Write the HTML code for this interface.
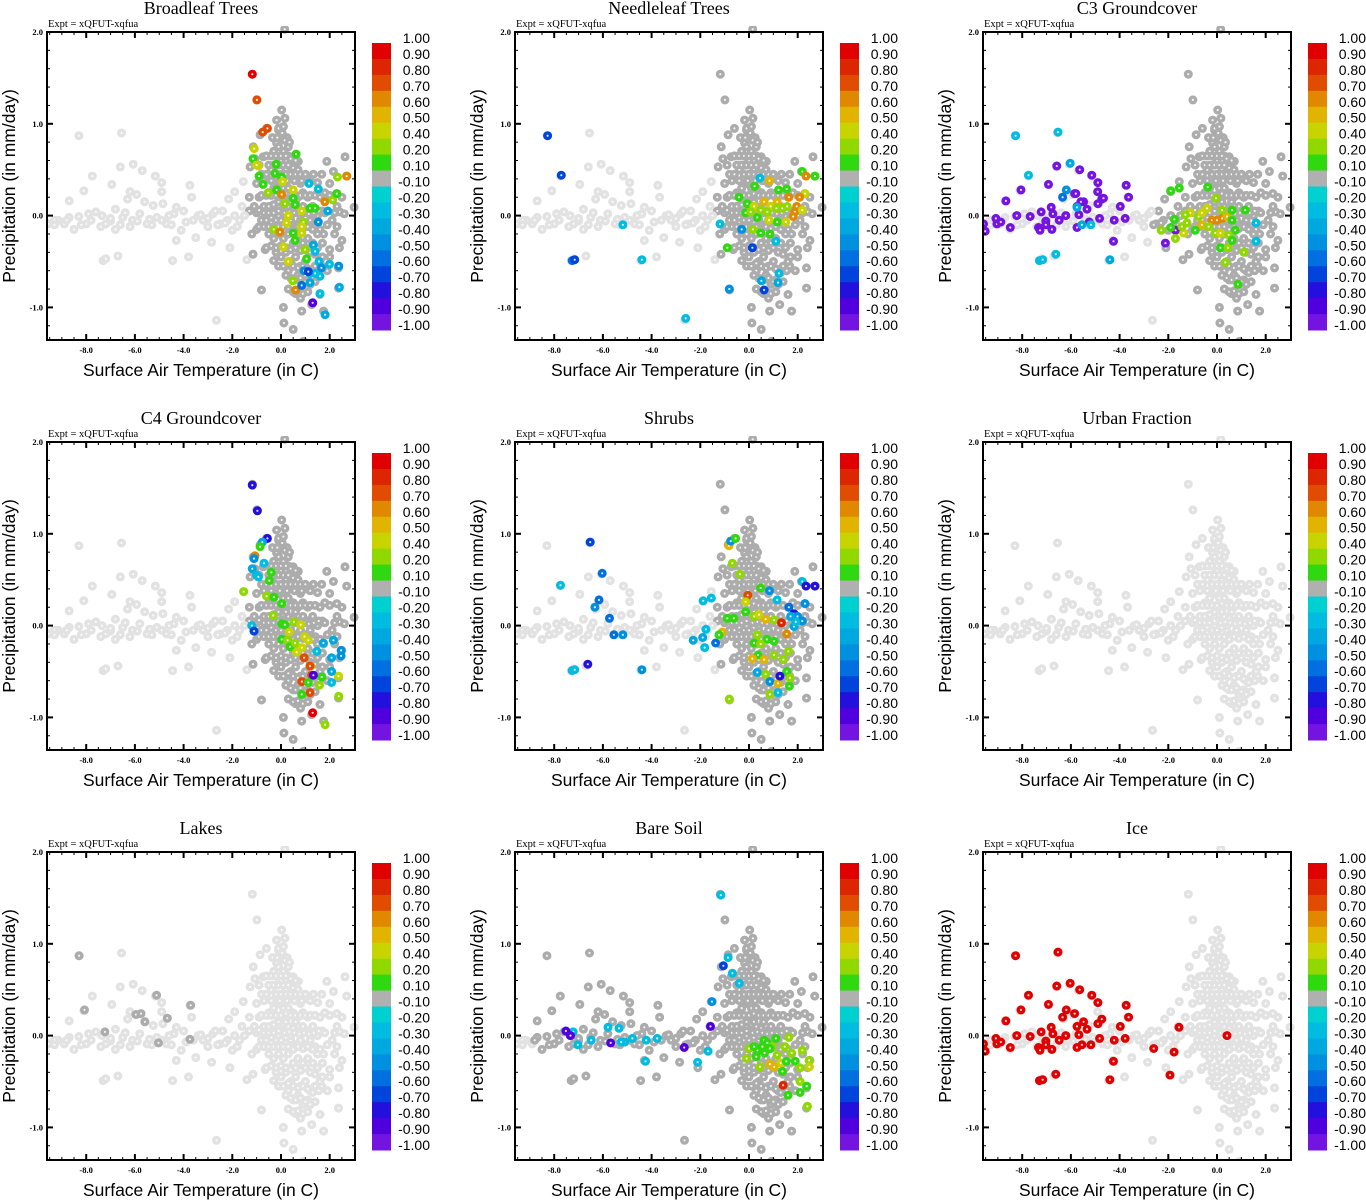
<!DOCTYPE html>
<html><head><meta charset="utf-8">
<style>
html,body{margin:0;padding:0;background:#fff;}
svg{display:block;}
.ttl{font-family:"Liberation Serif",serif;font-size:18px;fill:#000;}
.expt{font-family:"Liberation Serif",serif;font-size:10.5px;fill:#000;}
.tk{font-family:"Liberation Serif",serif;font-size:8.5px;font-weight:bold;fill:#000;}
.axt{font-family:"Liberation Sans",sans-serif;font-size:17.5px;fill:#000;}
.cbl{font-family:"Liberation Sans",sans-serif;font-size:14px;fill:#000;}
</style></head>
<body>
<svg id="fig" width="1366" height="1200" viewBox="0 0 1366 1200" xmlns="http://www.w3.org/2000/svg"></svg>
<script>
// ---- data ----
const panelTitles = ["Broadleaf Trees","Needleleaf Trees","C3 Groundcover","C4 Groundcover","Shrubs","Urban Fraction","Lakes","Bare Soil","Ice"];
const xTicks = [-8,-6,-4,-2,0,2];
const xTickLabels = ["-8.0","-6.0","-4.0","-2.0","0.0","2.0"];
const yTicks = [2,1,0,-1];
const yTickLabels = ["2.0","1.0","0.0","-1.0"];
const cbLabels = ["1.00","0.90","0.80","0.70","0.60","0.50","0.40","0.20","0.10","-0.10","-0.20","-0.30","-0.40","-0.50","-0.60","-0.70","-0.80","-0.90","-1.00"];
const cbLevels = [1.0,0.9,0.8,0.7,0.6,0.5,0.4,0.2,0.1,-0.1,-0.2,-0.3,-0.4,-0.5,-0.6,-0.7,-0.8,-0.9,-1.0];
const cbColors = ["#e00000","#dc2600","#e04c00","#e08800","#e0b400","#c8d400","#90d800","#30d810","#b0b0b0","#00d0d0","#00bce0","#00a8e0","#0090e0","#0070e0","#0044dc","#2410dc","#5000dc","#7414e0"];
// base cloud: [temperature, precipitation]
const baseT = [-8.3,-6.55,-1.18,-0.99,0.15,-8.7,-8.1,-7.75,-6.95,-6.6,-6.07,-5.7,-5.16,-4.9,-4.9,-3.74,-3.67,-6.2,-5.93,-6.3,-5.6,-5.25,-4.85,-4.3,-4.0,-9.55,-9.15,-8.9,-8.5,-8.3,-8.0,-7.6,-7.35,-7.2,-6.8,-6.8,-6.5,-6.1,-5.8,-5.5,-5.1,-4.7,-4.4,-4.1,-4.3,-4.45,-3.8,-3.5,-3.2,-2.8,-2.5,-2.85,-2.65,-2.1,-2.0,-2.15,-1.9,-1.55,-1.4,-1.15,-0.8,-0.65,-0.3,-7.3,-7.2,-6.7,2.63,2.7,1.88,1.67,1.33,2.15,2.29,2.42,2.5,2.36,2.36,2.0,1.67,1.6,1.75,1.26,0.85,0.5,0.12,0.1,0.92,3.0,-0.18,0.03,0.16,-0.1,-0.6,-0.86,-1.14,-1.07,-1.27,-0.73,-0.18,0.1,0.3,0.5,0.71,0.37,-0.6,-0.4,-0.2,0,0.2,0.4,0.6,-0.5,-0.3,-0.1,0.1,0.3,0.5,0.7,0.9,1.1,-0.7,-0.5,-0.3,-0.1,0.1,0.3,0.5,0.7,0.9,1.1,1.3,1.5,1.7,-0.8,-0.6,-0.4,-0.2,0,0.2,0.4,0.6,0.8,1.0,1.2,1.4,1.6,1.9,2.1,-0.5,-0.3,-0.1,0.1,0.3,0.5,0.7,0.9,1.1,1.3,1.5,1.7,-0.2,0,0.2,0.4,0.6,0.8,1.0,1.2,1.4,0.3,0.5,0.7,0.9,1.1,0.6,0.8,-0.3,-0.1,0.1,0.3,0.05,0.25,-0.9,-1.1,-1.3,-1.5,-1.7,-1.9,-2.2,-2.4,-1.0,-1.2,2.3,2.5,2.2,2.4,1.8,2.0,1.6,1.9,0.0,0.2,0.4,-0.1,0.6,0.8,1.0,-3.0,-3.4,-2.6,-9.3,-8.7,-7.9,-7.0,-6.4,-5.4,-4.6,-3.9,-3.3];
const baseP = [0.87,0.90,1.54,1.26,2.03,0.16,0.27,0.43,0.34,0.53,0.56,0.49,0.43,0.36,0.26,0.33,0.2,0.26,0.23,0.18,0.15,0.11,0.13,0.09,0.05,-0.09,-0.05,-0.09,-0.15,-0.01,-0.09,0.04,0.0,-0.09,0.07,-0.15,-0.02,-0.05,0.02,-0.09,-0.02,-0.09,0.02,-0.16,-0.27,-0.49,-0.45,-0.24,-0.05,0.02,-0.09,-0.29,-1.14,-0.35,-0.16,0.18,0.26,0.37,-0.48,-0.42,-0.81,-0.37,-0.49,-0.49,-0.47,-0.44,0.64,0.43,0.59,0.45,0.45,0.48,0.24,0.04,-0.27,-0.57,-0.79,-0.37,-0.55,-0.86,-1.04,-0.97,-1.04,-1.24,-1.17,-1.0,-1.37,0.09,1.04,1.15,1.06,0.93,0.95,0.88,0.75,0.62,0.53,0.64,0.79,0.86,0.75,0.64,0.59,0.53,0.4,0.5,0.55,0.6,0.5,0.45,0.4,0.25,0.3,0.35,0.3,0.3,0.25,0.2,0.25,0.2,0.1,0.1,0.12,0.15,0.12,0.1,0.08,0.05,0.1,0.05,0.1,0.0,0.05,-0.05,-0.05,-0.02,-0.05,-0.05,-0.08,-0.05,-0.1,-0.05,-0.1,-0.05,-0.12,-0.15,-0.1,-0.05,-0.2,-0.25,-0.2,-0.25,-0.2,-0.3,-0.25,-0.3,-0.25,-0.3,-0.35,-0.3,-0.4,-0.45,-0.4,-0.5,-0.45,-0.55,-0.5,-0.6,-0.55,-0.6,-0.7,-0.65,-0.75,-0.7,-0.85,-0.9,0.7,0.75,0.7,0.65,0.9,0.85,0.2,0.1,0.05,0.0,-0.05,0.0,-0.05,0.05,-0.15,-0.2,0.1,0.2,-0.2,-0.35,0.25,0.35,-0.5,-0.6,0.2,0.15,0.0,0.0,0.15,0.35,0.4,-0.03,0.0,-0.1,-0.05,-0.02,0.02,-0.06,0.03,-0.04,0.0,-0.07,0.01];
// additional dense-cluster points [t,p]
const denseCloud = [[-0.1,0.95],[0.1,0.97],[-0.35,0.85],[-0.15,0.85],[0.15,0.82],[0.35,0.8],[-0.6,0.65],[-0.4,0.65],[-0.2,0.65],[0.0,0.65],[0.2,0.65],[0.4,0.62],[0.6,0.6],[-0.9,0.55],[-0.5,0.55],[-0.3,0.55],[-0.1,0.55],[0.1,0.55],[0.3,0.55],[0.5,0.52],[0.7,0.5],[-0.8,0.45],[-0.6,0.45],[-0.2,0.45],[0.0,0.45],[0.2,0.45],[0.4,0.45],[0.6,0.45],[0.8,0.45],[1.0,0.45],[-0.7,0.38],[-0.4,0.38],[-0.05,0.38],[0.25,0.38],[0.55,0.38],[0.85,0.38],[1.2,0.38],[1.5,0.36],[-0.8,0.22],[-0.6,0.22],[-0.4,0.22],[-0.2,0.22],[0.0,0.22],[0.2,0.24],[0.4,0.22],[0.6,0.22],[0.8,0.22],[1.0,0.22],[1.2,0.22],[1.4,0.22],[1.6,0.2],[2.0,0.22],[-1.0,0.03],[-0.9,0.06],[-0.7,0.03],[-0.5,0.03],[-0.3,0.03],[-0.1,0.05],[0.15,0.03],[0.35,0.04],[0.55,0.03],[0.75,0.02],[0.95,0.03],[1.15,0.02],[1.35,0.03],[1.55,0.05],[1.8,0.03],[2.2,0.03],[2.6,0.02],[-0.9,-0.12],[-0.7,-0.12],[-0.5,-0.12],[-0.3,-0.12],[-0.1,-0.12],[0.1,-0.12],[0.3,-0.12],[0.5,-0.15],[0.7,-0.12],[0.9,-0.14],[1.1,-0.12],[1.3,-0.15],[1.5,-0.2],[1.75,-0.2],[2.3,-0.12],[-0.6,-0.35],[-0.4,-0.33],[-0.2,-0.35],[0.0,-0.33],[0.2,-0.35],[0.4,-0.37],[0.6,-0.35],[0.8,-0.38],[1.0,-0.35],[1.2,-0.4],[1.4,-0.42],[1.7,-0.45],[2.0,-0.45],[-0.1,-0.55],[0.1,-0.55],[0.3,-0.52],[0.5,-0.55],[0.7,-0.57],[0.9,-0.55],[1.1,-0.58],[1.3,-0.62],[1.55,-0.6],[0.2,-0.65],[0.4,-0.68],[0.6,-0.7],[0.8,-0.68],[1.0,-0.72],[1.2,-0.75],[1.4,-0.72],[0.3,-0.8],[0.5,-0.83],[0.7,-0.82],[0.9,-0.85],[1.1,-0.83]];
// additional tail points near zero precipitation [t,p]
const tailCloud = [[-9.3,-0.1],[-8.8,-0.05],[-8.2,-0.1],[-7.8,-0.05],[-7.4,-0.12],[-7.0,-0.03],[-6.6,-0.1],[-6.2,-0.12],[-5.9,-0.06],[-5.3,-0.1],[-4.9,-0.05],[-4.5,-0.1],[-3.6,-0.05],[-3.0,-0.12],[-2.7,0.05],[-2.3,-0.08],[-1.8,-0.12],[-1.6,0.1],[-1.3,0.2],[-1.0,0.35]];
// threshold temperature above which base points are near-zero (dark gray) per panel
const neutralFrom = [-1.3,-1.3,-2.6,-1.3,-1.3,99,99,-8.8,99];
// extra near-zero points (Lakes)
const lakesNeutralT = [-8.29,-8.07,-7.23,-5.96,-5.75,-5.59,-5.11,-5.03,-4.67,-3.71,-3.74];
const lakesNeutralP = [0.87,0.28,0.04,0.23,0.24,0.15,0.44,-0.08,0.19,0.33,-0.04];
// colored points per panel: [t,p,value]
const broadleafPts = [[-1.18,1.54,0.95],[-0.99,1.26,0.75],[-0.75,0.91,0.75],[-0.56,0.95,0.75],[-1.1,0.73,0.4],[-1.15,0.62,0.15],[-0.93,0.54,0.4],[-1.0,0.55,0.4],[-0.2,0.56,0.15],[0.62,0.67,0.15],[-0.9,0.43,0.15],[-0.25,0.46,0.15],[0.03,0.42,0.15],[0.07,0.37,0.4],[-0.73,0.34,0.15],[-0.52,0.25,0.3],[-0.18,0.28,0.15],[0.03,0.23,0.6],[0.5,0.28,0.4],[0.5,0.19,0.15],[0.16,0.13,0.3],[0.58,0.12,0.15],[0.85,0.05,0.4],[1.19,0.08,0.15],[1.4,0.08,0.15],[0.3,0.0,0.4],[0.23,-0.08,0.4],[0.5,-0.19,0.15],[0.92,-0.07,0.3],[0.85,-0.12,0.4],[0.85,-0.19,0.4],[-0.3,-0.15,0.3],[-0.04,-0.18,0.65],[0.58,-0.27,0.15],[0.1,-0.34,0.4],[0.99,-0.37,0.3],[1.05,-0.47,0.15],[0.3,-0.5,0.4],[0.48,-0.71,0.3],[0.6,-0.81,0.6],[2.7,0.43,0.6],[2.32,0.42,0.3],[2.12,0.17,0.3],[1.8,0.15,0.65],[2.29,0.24,0.15],[1.15,0.35,-0.25],[1.53,0.29,-0.25],[1.92,0.05,-0.4],[1.53,-0.07,-0.5],[1.33,-0.32,-0.4],[1.4,-0.39,-0.3],[1.56,-0.5,-0.25],[1.66,-0.57,-0.5],[1.99,-0.53,-0.3],[2.37,-0.55,-0.5],[2.4,-0.78,-0.35],[1.19,-0.63,-0.3],[1.4,-0.63,-0.25],[1.6,-0.66,-0.3],[1.19,-0.73,-0.4],[0.95,-0.6,-0.45],[1.12,-0.61,-0.7],[1.6,-0.85,-0.3],[1.3,-0.95,-0.85],[1.81,-1.08,-0.35],[0.85,-0.76,-0.6]];
const needleleafPts = [[-8.27,0.87,-0.7],[-7.71,0.44,-0.65],[-7.26,-0.49,-0.55],[-7.16,-0.48,-0.65],[-5.18,-0.1,-0.25],[-4.4,-0.48,-0.3],[-2.6,-1.12,-0.25],[-0.81,-0.8,-0.45],[-1.19,-0.09,-0.25],[-0.89,-0.35,0.15],[-0.3,-0.15,-0.45],[0.14,-0.35,-0.65],[0.62,-0.81,-0.7],[0.51,-0.71,-0.4],[1.19,-0.73,-0.4],[1.23,-0.63,-0.3],[1.1,-0.28,-0.25],[0.45,0.41,-0.25],[0.23,0.32,0.15],[0.84,0.38,0.55],[1.21,0.28,0.15],[1.55,0.29,0.15],[2.19,0.48,0.15],[2.34,0.43,0.65],[2.71,0.43,0.15],[2.3,0.24,0.45],[2.08,0.2,0.65],[1.64,0.2,0.65],[1.96,0.1,0.65],[1.88,0.04,0.65],[1.81,-0.01,0.65],[2.19,0.06,0.4],[1.51,-0.07,0.45],[1.16,-0.07,0.15],[0.82,-0.05,0.4],[0.34,-0.02,0.15],[-0.14,0.03,0.15],[-0.41,0.2,0.15],[-0.07,0.13,0.15],[0.21,0.1,0.4],[0.62,0.15,0.55],[0.89,0.1,0.4],[1.16,0.15,0.55],[1.37,0.08,0.3],[0.48,0.06,0.3],[0.75,0.04,0.3],[0.16,-0.15,0.3],[0.48,-0.19,0.15],[0.86,-0.2,0.15],[0.07,0.04,0.3],[1.13,0.08,0.3],[1.57,0.1,0.3]];
const c3Pts = [[-9.59,-0.09,-0.95],[-9.52,-0.17,-0.95],[-9.08,-0.03,-0.95],[-9.04,-0.09,-0.95],[-8.88,-0.07,-0.95],[-8.67,0.16,-0.95],[-8.49,-0.13,-0.95],[-8.22,0.0,-0.95],[-8.05,0.28,-0.95],[-7.67,-0.01,-0.95],[-7.33,-0.13,-0.95],[-7.27,-0.16,-0.95],[-7.22,0.04,-0.95],[-7.03,-0.06,-0.95],[-7.03,-0.1,-0.95],[-6.92,0.34,-0.95],[-6.81,0.09,-0.95],[-6.78,-0.15,-0.95],[-6.74,0.02,-0.95],[-6.58,0.54,-0.95],[-6.48,-0.05,-0.95],[-6.21,0.0,-0.95],[-5.85,0.24,-0.95],[-5.8,0.24,-0.95],[-5.75,0.1,-0.95],[-5.67,0.01,-0.95],[-5.64,0.5,-0.95],[-5.75,-0.13,-0.95],[-5.48,0.15,-0.95],[-5.59,0.15,-0.95],[-5.34,0.07,-0.95],[-5.25,-0.07,-0.95],[-5.14,0.44,-0.95],[-4.89,0.36,-0.95],[-4.89,0.13,-0.95],[-4.9,0.26,-0.95],[-4.82,-0.03,-0.95],[-4.73,0.18,-0.95],[-4.66,0.19,-0.95],[-4.25,-0.28,-0.95],[-4.22,-0.05,-0.95],[-3.97,0.1,-0.95],[-3.77,-0.03,-0.95],[-3.73,0.33,-0.95],[-3.63,0.2,-0.95],[-2.12,-0.3,-0.95],[-1.7,-0.16,-0.95],[-8.27,0.87,-0.25],[-6.53,0.91,-0.25],[-7.74,0.44,-0.25],[-6.03,0.57,-0.35],[-6.19,0.28,-0.45],[-6.34,0.2,-0.6],[-5.75,0.09,-0.35],[-5.55,-0.1,-0.4],[-5.18,-0.1,-0.25],[-7.29,-0.49,-0.25],[-7.16,-0.48,-0.25],[-6.62,-0.42,-0.3],[-4.4,-0.48,-0.35],[-1.9,0.27,0.15],[-1.55,0.3,0.15],[-0.38,0.31,0.15],[-0.04,0.19,0.25],[-2.29,-0.16,0.25],[-1.9,-0.13,0.15],[-1.75,-0.04,0.15],[-1.71,-0.25,0.25],[-1.37,-0.19,0.45],[-1.44,-0.12,0.3],[-1.23,-0.08,0.2],[-0.89,-0.16,0.15],[-0.62,-0.1,0.55],[-0.41,0.08,0.45],[-0.21,-0.05,0.6],[0.0,-0.05,0.65],[0.21,-0.03,0.6],[0.41,-0.01,0.55],[0.21,0.06,0.3],[0.62,0.06,0.15],[1.16,0.06,0.15],[0.62,-0.05,0.15],[0.75,-0.16,0.15],[-0.07,-0.19,0.3],[0.14,-0.19,0.45],[0.48,-0.21,0.3],[0.14,-0.35,0.15],[0.45,-0.35,0.3],[0.62,-0.27,0.15],[1.1,-0.4,0.25],[0.34,-0.51,0.25],[0.86,-0.75,0.15],[-1.1,0.03,0.45],[-0.75,-0.01,0.3],[-0.34,-0.12,0.35],[-0.62,0.03,0.4],[-1.3,0.01,0.3],[1.6,-0.08,-0.3],[1.6,-0.28,-0.3]];
const c4Pts = [[-1.18,1.53,-0.8],[-0.97,1.25,-0.8],[-0.56,0.95,-0.8],[-0.77,0.91,-0.4],[-0.86,0.86,0.15],[-1.07,0.76,0.65],[-1.11,0.73,-0.45],[-0.7,0.68,-0.25],[-1.18,0.62,-0.35],[-1.0,0.55,-0.25],[-0.93,0.53,-0.25],[-0.4,0.58,0.15],[-0.48,0.49,0.15],[-1.53,0.37,0.3],[-0.59,0.32,0.3],[-0.29,0.31,0.15],[0.03,0.24,0.15],[-0.32,0.11,0.3],[0.03,0.02,0.15],[0.16,0.01,0.15],[0.53,0.04,0.3],[0.81,0.01,0.4],[-1.2,0.0,-0.3],[-1.11,-0.06,-0.65],[0.34,-0.07,0.45],[0.03,-0.15,0.15],[0.27,-0.16,0.3],[0.37,-0.23,0.15],[0.58,-0.19,0.3],[0.64,-0.29,0.45],[0.86,-0.24,0.45],[0.97,-0.12,0.45],[1.12,-0.16,0.45],[0.95,-0.35,0.75],[1.22,-0.44,0.4],[1.19,-0.44,0.75],[1.26,-0.54,0.75],[0.86,-0.61,0.75],[1.19,-0.73,0.75],[1.3,-0.95,0.9],[1.12,-0.62,0.15],[0.85,-0.75,0.15],[1.58,-0.65,0.3],[1.67,-0.56,0.15],[1.81,-1.08,0.3],[2.37,-0.77,0.3],[2.36,-0.55,0.45],[2.08,-0.5,-0.35],[2.08,-0.62,-0.25],[2.08,-0.35,-0.35],[1.74,-0.19,-0.35],[2.15,-0.16,-0.35],[2.47,-0.27,-0.45],[2.47,-0.33,-0.45],[1.33,-0.54,-0.85],[1.47,-0.28,-0.3]];
const shrubsPts = [[-6.52,0.91,-0.7],[-6.03,0.57,-0.55],[-7.74,0.44,-0.25],[-6.16,0.28,-0.55],[-6.33,0.2,-0.5],[-5.73,0.08,-0.55],[-5.55,-0.1,-0.55],[-5.18,-0.1,-0.5],[-6.62,-0.42,-0.8],[-7.26,-0.49,-0.25],[-7.16,-0.48,-0.25],[-4.4,-0.48,-0.5],[-0.81,-0.8,0.3],[-0.82,0.87,0.55],[-0.75,0.92,-0.5],[-0.55,0.95,0.15],[-0.68,0.68,0.3],[-0.37,0.56,0.3],[-0.05,0.33,0.75],[-0.14,0.26,0.45],[0.48,0.41,0.15],[0.84,0.38,-0.45],[-1.88,0.27,-0.25],[-1.55,0.3,-0.25],[-1.77,-0.04,-0.25],[-1.9,-0.13,-0.35],[-2.29,-0.16,-0.35],[-1.82,-0.24,-0.25],[-1.37,-0.19,-0.55],[-1.1,-0.07,0.55],[-1.23,-0.1,0.15],[-0.89,0.08,0.15],[-0.62,0.08,0.15],[-0.14,0.15,0.15],[0.21,0.1,0.3],[0.41,0.12,0.45],[0.68,0.07,0.55],[1.03,0.06,0.3],[1.33,0.03,0.8],[0.21,-0.19,0.15],[0.73,-0.15,0.15],[0.48,-0.2,0.3],[0.34,-0.1,0.3],[1.03,-0.17,0.15],[1.55,-0.09,0.6],[0.37,-0.32,0.15],[0.14,-0.36,0.5],[0.62,-0.37,0.5],[1.03,-0.32,0.3],[1.41,-0.37,0.3],[1.62,-0.28,0.3],[0.68,-0.53,0.3],[0.86,-0.61,-0.5],[1.19,-0.63,0.55],[0.86,-0.75,0.3],[1.19,-0.73,-0.25],[1.55,-0.5,0.15],[1.66,-0.66,0.15],[1.68,-0.57,0.3],[1.27,-0.55,-0.8],[0.34,-0.51,-0.4],[1.16,0.28,-0.25],[1.64,0.2,-0.55],[1.85,0.13,-0.8],[1.99,0.1,-0.5],[2.19,0.48,-0.25],[2.34,0.43,-0.8],[2.71,0.43,-0.8],[2.3,0.24,-0.5],[2.19,0.05,-0.5],[1.85,-0.01,-0.35],[1.92,0.04,-0.3],[1.71,0.1,-0.4]];
const bareSoilPts = [[-1.16,1.53,-0.25],[-0.86,0.85,-0.3],[-1.05,0.76,-0.7],[-0.68,0.68,-0.25],[-0.4,0.57,-0.25],[-1.52,0.37,-0.45],[-1.58,0.1,-0.9],[-1.68,-0.17,-0.25],[-2.11,-0.29,-0.25],[-2.66,-0.13,-0.9],[-3.77,-0.03,-0.25],[-4.22,-0.05,-0.25],[-4.25,-0.28,-0.25],[-4.79,-0.03,-0.25],[-5.1,-0.07,-0.25],[-5.25,-0.07,-0.25],[-5.68,-0.08,-0.9],[-5.34,0.08,-0.25],[-5.79,0.09,-0.25],[-6.48,-0.05,-0.25],[-7.03,-0.1,-0.25],[-7.22,0.04,-0.25],[-7.33,0.0,-0.9],[-7.52,0.05,-0.9],[0.0,-0.14,0.3],[-0.1,-0.25,0.3],[0.3,-0.23,0.15],[0.45,-0.34,0.3],[0.62,-0.05,0.15],[0.75,-0.08,0.15],[0.96,-0.12,0.3],[1.1,-0.03,0.15],[0.86,-0.14,0.15],[0.64,-0.19,0.15],[1.16,-0.21,0.3],[1.3,-0.3,0.45],[1.03,-0.34,0.55],[0.86,-0.31,0.55],[1.37,-0.39,0.15],[1.53,-0.28,0.15],[1.47,-0.12,0.3],[1.64,-0.02,0.3],[1.75,-0.19,0.3],[1.9,-0.28,0.15],[2.19,-0.16,0.3],[2.47,-0.27,0.3],[2.48,-0.34,0.45],[2.1,-0.35,0.3],[2.1,-0.5,0.3],[2.37,-0.55,0.15],[2.1,-0.62,0.15],[1.6,-0.65,0.15],[2.4,-0.77,0.3],[1.4,-0.54,0.8],[0.55,-0.12,0.15],[0.34,-0.16,0.15],[0.21,-0.12,0.15]];
const icePts = [[-9.59,-0.09,0.95],[-9.52,-0.17,0.95],[-9.08,-0.03,0.95],[-9.04,-0.09,0.95],[-8.88,-0.07,0.95],[-8.67,0.16,0.95],[-8.49,-0.13,0.95],[-8.27,0.87,0.95],[-8.22,0.0,0.95],[-8.05,0.28,0.95],[-7.74,0.44,0.95],[-7.67,-0.01,0.95],[-7.33,-0.13,0.95],[-7.27,-0.16,0.95],[-7.29,-0.49,0.95],[-7.16,-0.48,0.95],[-7.22,0.04,0.95],[-7.03,-0.06,0.95],[-7.03,-0.1,0.95],[-6.92,0.34,0.95],[-6.81,0.09,0.95],[-6.78,-0.15,0.95],[-6.74,0.02,0.95],[-6.62,-0.42,0.95],[-6.58,0.54,0.95],[-6.53,0.91,0.95],[-6.48,-0.05,0.95],[-6.21,0.0,0.95],[-6.03,0.57,0.95],[-6.19,0.28,0.95],[-6.34,0.2,0.95],[-5.85,0.24,0.95],[-5.75,0.1,0.95],[-5.67,0.01,0.95],[-5.64,0.5,0.95],[-5.75,-0.13,0.95],[-5.48,0.15,0.95],[-5.55,-0.1,0.95],[-5.34,0.07,0.95],[-5.18,-0.1,0.95],[-5.14,0.44,0.95],[-4.89,0.36,0.95],[-4.89,0.13,0.95],[-4.82,-0.03,0.95],[-4.73,0.18,0.95],[-4.4,-0.48,0.95],[-4.25,-0.28,0.95],[-4.22,-0.05,0.95],[-3.97,0.1,0.95],[-3.77,-0.03,0.95],[-3.73,0.33,0.95],[-3.63,0.2,0.95],[-2.6,-0.14,0.95],[-1.76,-0.18,0.95],[-1.56,0.09,0.95],[-1.93,-0.43,0.95],[0.41,0.0,0.95]];
const panelPts = [broadleafPts,needleleafPts,c3Pts,c4Pts,shrubsPts,[],[],bareSoilPts,icePts];

// ---- drawing ----
const NS = "http://www.w3.org/2000/svg";
const svg = document.getElementById("fig");
const X0=47, X1=355, Y0=32, Y1=340, XZ=281, XS=24.35, YZ=215.6, YS=91.8;
const LIGHT="#e2e2e2", NEUTRAL="#acacac";
function el(tag, attrs, parent){const e=document.createElementNS(NS,tag);for(const k in attrs)e.setAttribute(k,attrs[k]);(parent||svg).appendChild(e);return e;}
function colorFor(v){
  if (Math.abs(v) < 0.1) return NEUTRAL;
  for (let i=0;i<cbColors.length;i++){ if (v <= cbLevels[i] && v >= cbLevels[i+1]) return cbColors[i]; }
  return v>0?cbColors[0]:cbColors[cbColors.length-1];
}
function marker(g, sx, sy, col){
  const c=el("circle",{cx:sx.toFixed(1),cy:sy.toFixed(1),r:4.5,fill:col},g);
  
  
  el("circle",{cx:sx.toFixed(1),cy:sy.toFixed(1),r:1.1,fill:"#fff","fill-opacity":0.85},g);
}
const allCloud = [];
for (let i=0;i<baseT.length;i++) allCloud.push([baseT[i],baseP[i]]);
tailCloud.forEach(d=>allCloud.push(d));
denseCloud.forEach(d=>allCloud.push(d));
for (let pi=0; pi<9; pi++){
  const ox=(pi%3)*468, oy=Math.floor(pi/3)*410;
  const g=el("g",{transform:`translate(${ox},${oy})`});
  
  
  const xs=t=>XZ+t*XS, ys=p=>YZ-p*YS;
  const t=el("text",{x:201,y:14,"text-anchor":"middle",class:"ttl"},g); t.textContent=panelTitles[pi];
   
  const ex=el("text",{x:48,y:27,class:"expt"},g); ex.textContent="Expt = xQFUT-xqfua";
   
  const clipId="clip"+pi;
  const cp=el("clipPath",{id:clipId},g); el("rect",{x:X0,y:Y0-6,width:X1-X0+8,height:Y1-Y0+6},cp);
  const pg=el("g",{"clip-path":`url(#${clipId})`},g);
   
  for (const d of allCloud){
    const col = d[0] >= neutralFrom[pi] ? NEUTRAL : LIGHT;
    marker(pg, xs(d[0]), ys(d[1]), col);
  }
  if (pi===6){ for(let i=0;i<lakesNeutralT.length;i++) marker(pg, xs(lakesNeutralT[i]), ys(lakesNeutralP[i]), NEUTRAL); }
  for (const d of panelPts[pi]) marker(pg, xs(d[0]), ys(d[1]), colorFor(d[2]));
  const box=el("rect",{x:X0,y:Y0,width:X1-X0,height:Y1-Y0,fill:"none",stroke:"#000","stroke-width":2},g);
   
  for (let v=-9.5; v<=3.01; v+=0.5){
    const px=xs(v); if(px<X0+1||px>X1-1) continue;
    const major = Math.abs(v%2)<1e-6;
    const L = major?6:3;
    el("line",{x1:px,y1:Y1,x2:px,y2:Y1-L,stroke:"#000","stroke-width":major?2:1},g);
    el("line",{x1:px,y1:Y0,x2:px,y2:Y0+L,stroke:"#000","stroke-width":major?2:1},g);
  }
  xTicks.forEach((v,i)=>{const tx=el("text",{x:xs(v),y:Y1+13,"text-anchor":"middle",class:"tk"},g);tx.textContent=xTickLabels[i];
     });
  for (let v=-1.2; v<=2.01; v+=0.2){
    const py=ys(v); if(py<Y0+1||py>Y1-1) continue;
    const major = Math.abs(v-Math.round(v))<1e-6;
    const L = major?6:3;
    el("line",{x1:X0,y1:py,x2:X0+L,y2:py,stroke:"#000","stroke-width":major?2:1},g);
    el("line",{x1:X1,y1:py,x2:X1-L,y2:py,stroke:"#000","stroke-width":major?2:1},g);
  }
  yTicks.forEach((v,i)=>{const ty=el("text",{x:X0-4,y:ys(v)+3,"text-anchor":"end",class:"tk"},g);ty.textContent=yTickLabels[i];
     });
  const xt=el("text",{x:201,y:376,"text-anchor":"middle",class:"axt"},g); xt.textContent="Surface Air Temperature (in C)";
   
  const yt=el("text",{x:0,y:0,"text-anchor":"middle",class:"axt",transform:"translate(15,186) rotate(-90)"},g); yt.textContent="Precipitation (in mm/day)";
   
  const cb=el("g",{},g);
   
  const cbTop=43, cbH=(330-43)/cbColors.length;
  cbColors.forEach((c,i)=>{el("rect",{x:372,y:cbTop+i*cbH,width:19,height:cbH+0.5,fill:c},cb);});
  const nl=cbLabels.length;
  cbLabels.forEach((s,i)=>{const ly=43+i*(287/(nl-1));
    const tl=el("text",{x:430,y:ly,"text-anchor":"end",class:"cbl"},cb);tl.textContent=s;
     });
}
</script>
</body></html>
